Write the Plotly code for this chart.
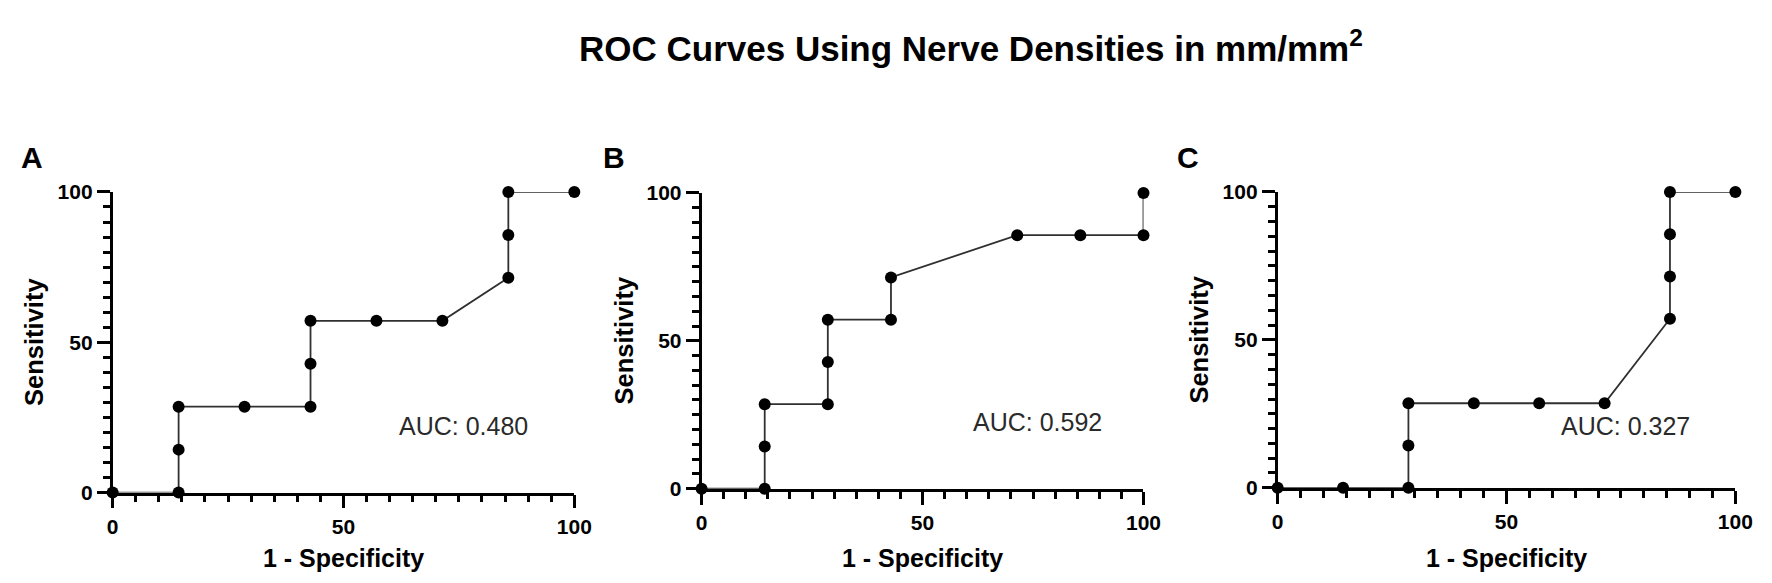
import plotly.graph_objects as go

W, H = 1772, 583

# ---- data (values in %) ----
panel_names = ["A", "B", "C"]
auc_labels = ["AUC: 0.480", "AUC: 0.592", "AUC: 0.327"]

a_fpr = [0, 14.29, 14.29, 14.29, 28.57, 42.86, 42.86, 42.86, 57.14, 71.43, 85.71, 85.71, 85.71, 100]
a_tpr = [0, 0, 14.29, 28.57, 28.57, 28.57, 42.86, 57.14, 57.14, 57.14, 71.43, 85.71, 100, 100]

b_fpr = [0, 14.29, 14.29, 14.29, 28.57, 28.57, 28.57, 42.86, 42.86, 71.43, 85.71, 100, 100]
b_tpr = [0, 0, 14.29, 28.57, 28.57, 42.86, 57.14, 57.14, 71.43, 85.71, 85.71, 85.71, 100]

c_fpr = [0, 14.29, 28.57, 28.57, 28.57, 42.86, 57.14, 71.43, 85.71, 85.71, 85.71, 85.71, 100]
c_tpr = [0, 0, 0, 14.29, 28.57, 28.57, 28.57, 28.57, 57.14, 71.43, 85.71, 100, 100]

x_ticks = [0, 50, 100]
y_ticks = [0, 50, 100]
title_text = "ROC Curves Using Nerve Densities in mm/mm<sup>2</sup>"
x_title = "1 - Specificity"
y_title = "Sensitivity"

# ---- layout (pixel geometry) ----
FONT = "Liberation Sans, Arial, Helvetica, sans-serif"
panels_px = [  # x_left, x_right, y_top, y_bottom
    (100, 568, 179, 492),
    (697, 1145, 180, 488),
    (1281, 1745, 179, 487),
]
auc_pos = [(76, 22), (76, 22.7), (76, 21)]
letter_x = [18, 608, 1190]
ytitle_x = [21, 618, 1201]

def px(x):
    return x / W

def py(y):
    return 1 - y / H

fig = go.Figure()
series = [(a_fpr, a_tpr), (b_fpr, b_tpr), (c_fpr, c_tpr)]

annotations = []
for i, ((fx, ty), (xl, xr, yt, yb)) in enumerate(zip(series, panels_px)):
    sfx = "" if i == 0 else str(i + 1)
    fig.add_trace(go.Scatter(
        x=fx, y=ty, mode="lines+markers",
        line=dict(color="#303030", width=1.8),
        marker=dict(color="black", size=12),
        cliponaxis=False, showlegend=False,
        xaxis="x" + sfx, yaxis="y" + sfx,
    ))
    axis_common = dict(
        range=[0, 100], showgrid=False, zeroline=False,
        showline=True, linecolor="black", linewidth=2.6,
        ticks="outside", ticklen=13, tickwidth=2.6, tickcolor="black",
        tickfont=dict(family=FONT, size=21, color="black", weight="bold"),
        minor=dict(dtick=5, tick0=0, ticks="outside", ticklen=7,
                   tickwidth=2.6, tickcolor="black", showgrid=False),
        fixedrange=True,
    )
    fig.update_layout(**{
        "xaxis" + sfx: dict(axis_common, tickvals=x_ticks,
                            domain=[px(xl), px(xr)],
                            anchor="y" + sfx),
        "yaxis" + sfx: dict(axis_common, tickvals=y_ticks,
                            domain=[py(yb), py(yt)],
                            anchor="x" + sfx),
    })
    # AUC label
    annotations.append(dict(
        text=auc_labels[i], x=auc_pos[i][0], y=auc_pos[i][1],
        xref="x" + sfx, yref="y" + sfx, showarrow=False,
        xanchor="center", yanchor="middle",
        font=dict(family=FONT, size=25, color="#2a2a2a"),
    ))
    # panel letter
    annotations.append(dict(
        text=panel_names[i], x=px(letter_x[i]), y=py(143),
        xref="paper", yref="paper", showarrow=False,
        xanchor="center", yanchor="middle",
        font=dict(family=FONT, size=30, color="black", weight="bold"),
    ))
    # x title
    annotations.append(dict(
        text=x_title, x=px((xl + xr) / 2), y=py(560),
        xref="paper", yref="paper", showarrow=False,
        xanchor="center", yanchor="middle",
        font=dict(family=FONT, size=25, color="black", weight="bold"),
    ))
    # y title
    annotations.append(dict(
        text=y_title, x=px(ytitle_x[i]), y=py((yt + yb) / 2),
        xref="paper", yref="paper", showarrow=False, textangle=-90,
        xanchor="center", yanchor="middle",
        font=dict(family=FONT, size=25.5, color="black", weight="bold"),
    ))

annotations.append(dict(
    text=title_text, x=px(970), y=py(27),
    xref="paper", yref="paper", showarrow=False,
    xanchor="center", yanchor="middle",
    font=dict(family=FONT, size=35, color="black", weight="bold"),
))

fig.update_layout(
    width=W, height=H,
    margin=dict(l=0, r=0, t=0, b=0),
    paper_bgcolor="white", plot_bgcolor="white",
    annotations=annotations,
    showlegend=False,
)

fig.write_html("out.html", config={"displayModeBar": False})
